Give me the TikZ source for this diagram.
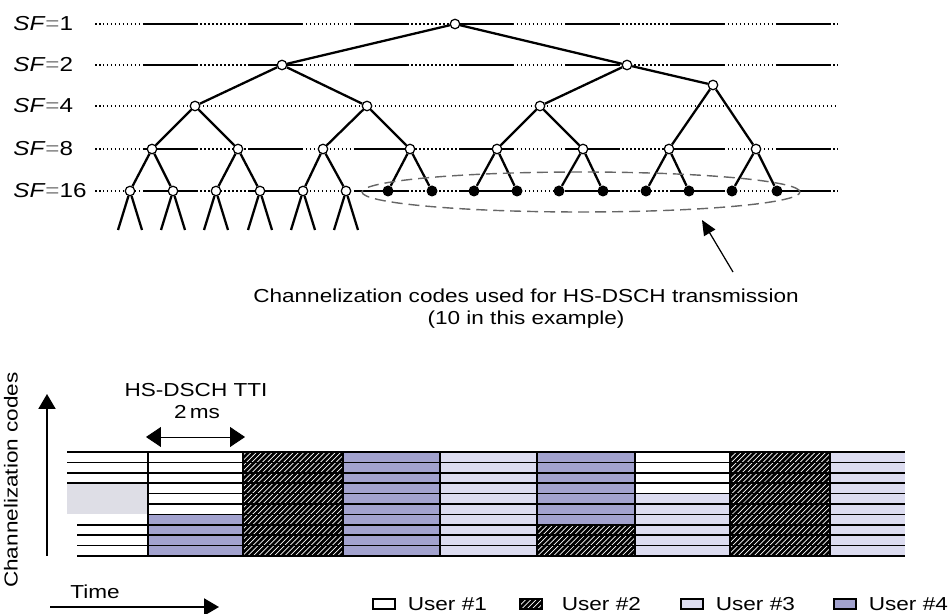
\documentclass[tikz,border=0pt]{standalone}
\usepackage{fontspec}
\setmainfont{Liberation Sans}[FakeStretch=1.2]
\usetikzlibrary{shapes.geometric, arrows, arrows.meta, patterns, positioning}

\definecolor{userthree}{HTML}{DCDCF0}
\definecolor{userfour}{HTML}{A2A2CE}
\definecolor{faded}{HTML}{DEDEE6}

\tikzstyle{code} = [
    circle,
    draw=black,
    fill=white,
    line width=0.7pt,
    inner sep=0pt,
    minimum size=0.19cm
]
\tikzstyle{usedcode} = [
    circle,
    fill=black,
    inner sep=0pt,
    minimum size=0.22cm
]
\tikzstyle{branch} = [line width=1.3pt]
\tikzstyle{sfline} = [
    line width=0.8pt,
    dash pattern=on 0.03cm off 0.05cm on 0.03cm off 0.05cm on 0.03cm off 0.05cm
    on 0.03cm off 0.05cm on 0.03cm off 0.05cm on 0.03cm off 0.05cm
    on 0.03cm off 0.05cm on 0.03cm off 0.05cm on 0.03cm off 0.05cm
    on 0.03cm off 0.05cm on 0.03cm off 0.05cm on 0.03cm off 0.05cm
    on 1.1cm off 0.05cm
]
\tikzstyle{sfdots} = [line width=0.8pt, dash pattern=on 0.03cm off 0.05cm]
\tikzstyle{sflabel} = [anchor=west, inner sep=0pt, font=\fontsize{11.5}{13}\selectfont]
\tikzstyle{txt} = [inner sep=0pt, font=\fontsize{10.7}{12.5}\selectfont]
\tikzstyle{arrow} = [line width=0.7pt,->,>={Triangle[length=0.3cm,width=0.26cm]}]
\tikzstyle{axis} = [line width=1.2pt,->,>={Triangle[length=0.3cm,width=0.34cm]}]
\tikzstyle{span} = [line width=0.5pt,<->,>={Triangle[length=0.3cm,width=0.4cm]}]
\tikzstyle{codeline} = [line width=1pt]
\tikzstyle{userone} = [fill=white]
\tikzstyle{usertwo} = [preaction={fill=black}, pattern=north east lines, pattern color=white]
\tikzstyle{userthree} = [fill=userthree]
\tikzstyle{userfour} = [fill=userfour]
\tikzstyle{keybox} = [draw=black, line width=0.6pt, minimum width=0.44cm, minimum height=0.2cm, inner sep=0pt]

\begin{document}
\begin{tikzpicture}[x=0.02cm, y=-0.02cm]
\useasboundingbox (0,0) rectangle (950,614);

% spreading factor levels
\node (lab1) [sflabel] at (13,24) {\textit{SF}\textcolor{gray}{=}1};
\node (lab2) [sflabel] at (13,65) {\textit{SF}\textcolor{gray}{=}2};
\node (lab4) [sflabel] at (13,106) {\textit{SF}\textcolor{gray}{=}4};
\node (lab8) [sflabel] at (13,149) {\textit{SF}\textcolor{gray}{=}8};
\node (lab16) [sflabel] at (13,191) {\textit{SF}\textcolor{gray}{=}16};

\coordinate (l1s) at (95,24);   \coordinate (l1e) at (838,24);
\coordinate (l2s) at (95,65);   \coordinate (l2e) at (838,65);
\coordinate (l4s) at (95,106);  \coordinate (l4e) at (838,106);
\coordinate (l8s) at (95,149);  \coordinate (l8e) at (838,149);
\coordinate (l16s) at (95,191); \coordinate (l16e) at (838,191);
\draw [sfline] (l1s) -- (l1e);
\draw [sfline] (l2s) -- (l2e);
\draw [sfdots] (l4s) -- (l4e);
\draw [sfline] (l8s) -- (l8e);
\draw [sfline] (l16s) -- (l16e);

% code tree
\node (sf1) [code] at (455,24) {};
\node (sf2a) [code] at (282,65) {};
\node (sf2b) [code] at (627,65) {};
\node (sf4a) [code] at (195,106) {};
\node (sf4b) [code] at (367,106) {};
\node (sf4c) [code] at (540,106) {};
\node (sf4d) [code] at (713,85) {};
\node (sf8a) [code] at (152,149) {};
\node (sf8b) [code] at (238,149) {};
\node (sf8c) [code] at (323,149) {};
\node (sf8d) [code] at (410,149) {};
\node (sf8e) [code] at (497,149) {};
\node (sf8f) [code] at (583,149) {};
\node (sf8g) [code] at (669,149) {};
\node (sf8h) [code] at (756,149) {};
\foreach \n/\x in {a/130,b/173,c/216,d/260,e/303,f/346} {
    \node (sf16\n) [code] at (\x,191) {};
    \coordinate (legl\n) at (\x-12,230);
    \coordinate (legr\n) at (\x+12,230);
    \draw [branch] (legl\n) -- (sf16\n) -- (legr\n);
}
\foreach \n/\x in {g/388,h/432,i/474,j/517,k/559,l/603,m/646,n/689,o/732,p/777}
    \node (sf16\n) [usedcode] at (\x,191) {};

\draw [branch] (sf2a) -- (sf1) -- (sf2b);
\draw [branch] (sf4a) -- (sf2a) -- (sf4b);
\draw [branch] (sf4c) -- (sf2b) -- (sf4d);
\draw [branch] (sf8a) -- (sf4a) -- (sf8b);
\draw [branch] (sf8c) -- (sf4b) -- (sf8d);
\draw [branch] (sf8e) -- (sf4c) -- (sf8f);
\draw [branch] (sf8g) -- (sf4d) -- (sf8h);
\draw [branch] (sf16a) -- (sf8a) -- (sf16b);
\draw [branch] (sf16c) -- (sf8b) -- (sf16d);
\draw [branch] (sf16e) -- (sf8c) -- (sf16f);
\draw [branch] (sf16g) -- (sf8d) -- (sf16h);
\draw [branch] (sf16i) -- (sf8e) -- (sf16j);
\draw [branch] (sf16k) -- (sf8f) -- (sf16l);
\draw [branch] (sf16m) -- (sf8g) -- (sf16n);
\draw [branch] (sf16o) -- (sf8h) -- (sf16p);

% codes for HS-DSCH
\node (used) [ellipse, draw=gray!80!black, dash pattern=on 0.22cm off 0.12cm, line width=0.8pt, minimum width=8.76cm, minimum height=0.8cm] at (581,192) {};
\node (caption) [txt, align=center] at (526,309)
{Channelization codes used for HS-DSCH transmission\\(10 in this example)};
\coordinate (captail) at (733,272);
\coordinate (captip) at (702,220);
\draw [arrow] (captail) -- (captip);

% time/code grid
\fill [faded] (67,483) rectangle (148,514);
\foreach \xa/\xb/\ra/\rb/\who in {
    148/243/0/6/userone, 148/243/6/10/userfour,
    243/343/0/10/usertwo,
    343/440/0/10/userfour,
    440/537/0/10/userthree,
    537/635/0/7/userfour, 537/635/7/10/usertwo,
    635/730/0/4/userone, 635/730/4/10/userthree,
    730/830/0/10/usertwo,
    830/905/0/10/userthree}
    \fill [\who] (\xa,{452+10.4*\ra}) rectangle (\xb,{452+10.4*\rb});
\foreach \r in {0,...,10}
    \draw [codeline] (148,{452+10.4*\r}) -- (905,{452+10.4*\r});
\foreach \r in {0,...,3}
    \draw [codeline] (67,{452+10.4*\r}) -- (148,{452+10.4*\r});
\foreach \r in {7,...,10}
    \draw [codeline] (77,{452+10.4*\r}) -- (148,{452+10.4*\r});
\foreach \x in {148,243,343,440,537,635,730,830}
    \draw [line width=1.3pt] (\x,452) -- (\x,556);

% axes
\coordinate (codelow) at (47,556);
\coordinate (codehigh) at (47,394);
\draw [axis] (codelow) -- (codehigh);
\node (codeaxis) [txt, rotate=90] at (11,480) {Channelization codes};
\coordinate (timeleft) at (50,607);
\coordinate (timeright) at (219,607);
\draw [axis] (timeleft) -- (timeright);
\node (time) [txt] at (95,592) {Time};

\node (tti) [txt] at (196,390) {HS-DSCH TTI};
\node (ttilen) [txt] at (197,412) {2\,ms};
\coordinate (ttil) at (146,437);
\coordinate (ttir) at (245,437);
\draw [span] (ttil) -- (ttir);

% legend
\node (key1) [keybox, userone] at (384,604) {};
\node (user1) [txt, right=0.24cm of key1] {User \#1};
\node (key2) [keybox, usertwo] at (531,604) {};
\node (user2) [txt, right=0.38cm of key2] {User \#2};
\node (key3) [keybox, userthree] at (692,604) {};
\node (user3) [txt, right=0.24cm of key3] {User \#3};
\node (key4) [keybox, userfour] at (845,604) {};
\node (user4) [txt, right=0.24cm of key4] {User \#4};

\end{tikzpicture}
\end{document}
